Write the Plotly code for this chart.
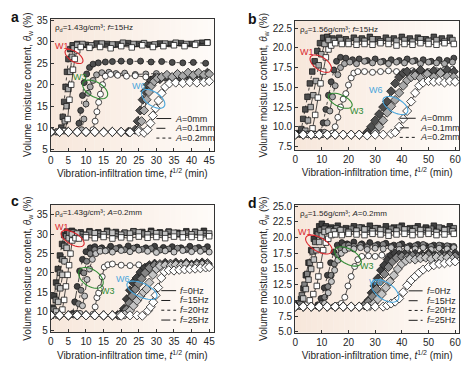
import math
import plotly.graph_objects as go

FIG_W, FIG_H = 475, 371
FONT = "Liberation Sans, Arial, sans-serif"

# ---------------- panel a : rho_d=1.43, f=15Hz, A = 0 / 0.1 / 0.2 mm ----------------
a_w1_0_t = [0, 2, 4, 4.8, 5.3, 5.8, 6.3, 6.8, 7.5, 8.5, 11, 14, 17, 20, 23, 26, 29, 32, 35, 38, 41, 44.5]
a_w1_0_y = [9, 9, 9.2, 12, 16.5, 20, 23.5, 26, 28, 28.8, 28.6, 28.8, 28.5, 29, 28.7, 29.2, 28.8, 29, 29.2, 29, 29.3, 29.8]
a_w1_1_t = [0, 2, 3.5, 4, 4.5, 5, 5.5, 6, 6.5, 7.5, 9, 11.5, 14.5, 17.5, 20.5, 23.5, 26.5, 29.5, 32.5, 35.5, 38.5, 41.5, 44.5]
a_w1_1_y = [9, 9, 9.3, 11.5, 15, 19, 23, 26.5, 28.5, 29.3, 29.5, 29.2, 29.6, 29.4, 29.8, 29.5, 29.7, 29.4, 29.6, 29.8, 29.5, 29.7, 29.9]
a_w1_2_t = [0, 2, 3, 3.4, 3.8, 4.2, 4.6, 5, 5.5, 6.2, 7.5, 10, 13, 16, 19, 22, 25, 28, 31, 34, 37, 40, 43]
a_w1_2_y = [9, 9, 10, 12.5, 16, 19.5, 23, 26, 28.3, 29.2, 29.5, 29.3, 29.6, 29.5, 29.4, 29.7, 29.5, 29.3, 29.6, 29.5, 29.7, 29.5, 29.8]

a_w3_0_t = [0, 2.5, 5, 7.5, 10, 12, 12.6, 13.1, 13.6, 14.1, 14.7, 15.5, 17, 19, 21.5, 24, 27, 30, 33, 36, 39, 42, 44.5]
a_w3_0_y = [9, 9, 9, 9, 8.9, 9.5, 11.5, 13.7, 15.9, 17.8, 20, 22, 22.4, 22.2, 22, 22.1, 21.8, 22, 21.7, 21.6, 21.8, 21.9, 22.1]
a_w3_1_t = [0, 2.5, 5, 7.5, 8.8, 9.4, 10, 10.6, 11.2, 12, 13, 14.5, 16.5, 18.5, 21, 24, 27, 30, 33, 36, 39, 42, 44.5]
a_w3_1_y = [9, 9, 9, 9, 9.5, 12, 15.5, 18, 19.5, 21, 22.3, 22.8, 22.9, 22.6, 22.7, 22.4, 22.5, 22.6, 22.3, 22.5, 22.4, 22.6, 22.5]
a_w3_2_t = [0, 2.5, 5, 7.5, 8, 8.5, 9, 9.5, 10.2, 11, 12, 13.5, 15.5, 17.5, 20, 22.5, 25.5, 28.5, 31.5, 34.5, 37.5, 40.5, 44]
a_w3_2_y = [9, 9, 9, 9.2, 11, 14, 17.5, 20.5, 22.5, 24, 24.8, 25.1, 25.3, 25.4, 25.5, 25.4, 25.5, 25.3, 25.4, 25.2, 25.1, 25.2, 25]

a_w6_0_t = [0, 2.5, 5, 7.5, 10, 12.5, 15, 17.5, 20, 22.5, 25, 26.5, 27.5, 28.3, 29, 29.8, 30.6, 31.5, 32.5, 33.7, 35.5, 37.5, 39.5, 41.5, 43.5, 45]
a_w6_0_y = [9, 9, 9, 9, 9, 9, 8.9, 9, 9, 8.9, 9, 8.8, 9.5, 11, 12.8, 14.5, 16.3, 18, 19.5, 20.3, 20.5, 20.4, 20.6, 20.5, 20.6, 20.8]
a_w6_1_t = [0, 2.5, 5, 7.5, 10, 12.5, 15, 17.5, 20, 22.5, 25, 25.8, 26.5, 27.2, 27.9, 28.6, 29.4, 30.3, 31.5, 33, 34.5, 36, 37.5, 39, 40.5, 42, 43.5, 45]
a_w6_1_y = [9, 9, 9, 9, 9, 9, 9, 9, 9, 9, 9.5, 11.5, 14, 16.5, 18.3, 19.8, 20.8, 21.5, 21.8, 22.3, 21.8, 22.5, 22, 22.8, 22.2, 22.8, 22.3, 22.5]
a_w6_2_t = [0, 2.5, 5, 7.5, 10, 12.5, 15, 17.5, 20, 22, 24, 24.7, 25.4, 26.1, 26.8, 27.6, 28.5, 29.5, 31, 32.5, 34, 35.5, 37, 38.5, 40, 41.5, 43, 44.5]
a_w6_2_y = [9, 9, 9, 9, 9, 9, 9, 9, 9, 9, 9.5, 11.5, 14, 16.5, 18.5, 20, 21, 21.5, 21.3, 21.8, 21.5, 22, 21.6, 22.2, 21.8, 22.5, 22, 22.8]

# ---------------- panel b : rho_d=1.56, f=15Hz, A = 0 / 0.1 / 0.2 mm ----------------
b_w1_0_t = [0, 2.5, 5, 6.5, 7.5, 8.5, 9.5, 10.5, 11.5, 12.5, 13.5, 15, 17.5, 20, 23, 26, 29, 32, 35, 38, 41, 44, 47, 50, 53, 56, 59.5]
b_w1_0_y = [9, 9.1, 9.1, 9.8, 11.5, 13.7, 15.5, 17, 18.8, 19.8, 20.3, 20.6, 20.5, 20.5, 20.4, 20.5, 20.4, 20.6, 20.5, 20.3, 20.5, 20.4, 20.6, 20.5, 20.4, 20.6, 20.5]
b_w1_1_t = [0, 2.5, 3.8, 4.8, 5.8, 6.8, 7.8, 8.8, 9.8, 11, 12.5, 14.5, 17, 20, 23, 26, 29, 32, 35, 38, 41, 44, 47, 50, 53, 56, 59]
b_w1_1_y = [9, 9, 9.5, 10.8, 12.5, 14, 15.8, 17.8, 19.2, 20.5, 21, 20.9, 21, 20.8, 21, 20.9, 21.1, 20.8, 21, 20.9, 21, 20.8, 21.1, 20.9, 21, 20.8, 21]
b_w1_2_t = [0, 1.5, 2.3, 3, 3.8, 4.6, 5.5, 6.4, 7.3, 8.3, 9.3, 10.5, 12, 14, 16.5, 19, 22, 25, 28, 31, 34, 37, 40, 43, 46, 49, 52, 55, 58]
b_w1_2_y = [9, 9.2, 9.7, 11, 12.2, 13.8, 15.5, 17, 18.3, 19.6, 20.6, 21.3, 21.4, 21.2, 21.3, 21.1, 21.3, 21.2, 21.4, 21.1, 21.3, 21.2, 21.4, 21.2, 21.3, 21.1, 21.4, 21.2, 21.3]

b_w3_0_t = [0, 2.5, 5, 7.5, 10, 12.5, 14, 15, 16, 17, 18, 19, 20, 21, 22, 23.5, 26, 29, 32, 35, 38, 41, 44, 47, 50, 53, 56, 59]
b_w3_0_y = [9, 9, 9, 9, 9, 9, 9.2, 10, 11.2, 12.5, 13.5, 14.2, 15.3, 16.2, 16.8, 17, 17, 16.9, 17, 17.1, 17, 17, 17.1, 17, 17, 17.1, 17.2, 17.3]
b_w3_1_t = [0, 2.5, 5, 7.5, 10, 11, 12, 13, 14, 15, 16, 17, 18.5, 20.5, 23, 26, 29, 32, 35, 38, 41, 44, 47, 50, 53, 56, 59]
b_w3_1_y = [9, 9, 9, 9, 9, 9.3, 10.5, 12, 13.8, 15.2, 16.6, 17.5, 18, 18.2, 18, 18.3, 18.1, 18.2, 18, 18.2, 18.1, 18.3, 18, 18.2, 18.1, 18, 18.2]
b_w3_2_t = [0, 2.5, 5, 7.5, 9.5, 10.5, 11.5, 12.5, 13.5, 14.5, 15.5, 17, 19, 21.5, 24, 27, 30, 33, 36, 39, 42, 45, 48, 51, 54, 57, 59.5]
b_w3_2_y = [9, 9, 9, 9, 9.3, 10.5, 12.2, 14, 15.7, 17.2, 18.3, 18.8, 18.7, 18.5, 18.6, 18.4, 18.6, 18.3, 18.5, 18.4, 18.6, 18.4, 18.5, 18.3, 18.5, 18.4, 18.7]

b_w6_0_t = [0, 3, 6, 9, 12, 15, 18, 21, 24, 27, 30, 33, 36, 37.5, 39, 40.5, 42, 43.5, 45, 46.5, 48, 50, 52, 54, 56, 58, 60]
b_w6_0_y = [9, 9, 9, 9, 9, 9, 9, 9, 9, 8.9, 9, 9, 9.1, 9.3, 10, 11, 12, 13.2, 14.3, 15.2, 15.6, 15.8, 15.7, 15.8, 15.6, 15.8, 15.7]
b_w6_1_t = [0, 3, 6, 9, 12, 15, 18, 21, 24, 27, 30, 31.5, 33, 34.5, 36, 37.5, 39, 40.5, 42, 43.5, 45, 47, 49.5, 52, 54.5, 57, 59.5]
b_w6_1_y = [9, 9, 9, 9, 9, 9, 9, 9, 9, 9, 9.3, 10, 10.8, 11.8, 12.6, 13.4, 14.3, 15.2, 15.9, 16.3, 16.5, 16.2, 16.7, 16.3, 16.8, 16.4, 16.3]
b_w6_2_t = [0, 3, 6, 9, 12, 15, 18, 21, 24, 27, 28.5, 30, 31.5, 33, 34.5, 36, 37.5, 39, 40.5, 42, 44.5, 47, 49.5, 52, 54.5, 57, 59.5]
b_w6_2_y = [9, 9, 9, 9, 9, 9, 9, 9, 9, 9.3, 10, 10.8, 11.6, 12.5, 13.2, 14.5, 15.5, 16.3, 16.8, 17, 16.8, 17.2, 16.8, 17.1, 16.9, 17.2, 17]

# ---------------- panel c : rho_d=1.43, A=0.2mm, f = 0 / 15 / 20 / 25 Hz ----------------
c_w1_0_t = [0, 2, 3.3, 3.8, 4.3, 4.8, 5.2, 5.6, 6.1, 7, 8, 10, 12.5, 15, 17.5, 20, 22.5, 25, 27.5, 30, 32.5, 35, 37.5, 40, 42.5, 45]
c_w1_0_y = [9, 9, 10.5, 13, 16.5, 19.5, 22, 25, 28.4, 29, 28.9, 29.2, 29, 29.3, 28.9, 29.2, 29, 29.4, 29.1, 29.3, 29, 29.4, 29.2, 29.3, 29.1, 29.5]
c_w1_1_t = [0, 1.5, 2.1, 2.7, 3.3, 3.9, 4.5, 5.1, 6, 7.5, 10, 12.5, 15, 17.5, 20, 22.5, 25, 27.5, 30, 32.5, 35, 37.5, 40, 42.5, 45]
c_w1_1_y = [9, 10, 12.5, 16, 19.5, 23, 26.5, 29, 30, 30.2, 29.8, 30.3, 30, 30.4, 29.9, 30.2, 30.5, 30, 30.3, 30.1, 30.4, 30.2, 30, 30.3, 30.2]
c_w1_2_t = [0, 0.8, 1.4, 2, 2.6, 3.2, 3.8, 4.4, 5.2, 6.5, 8.5, 11, 13.5, 16, 18.5, 21, 23.5, 26, 28.5, 31, 33.5, 36, 38.5, 41, 43.5]
c_w1_2_y = [9, 10.5, 13, 16.5, 20, 23.5, 27, 29.5, 30.3, 30.5, 30, 30.5, 30.2, 30.6, 30.1, 30.4, 30.7, 30.2, 30.5, 30.3, 30.6, 30.1, 30.4, 30.6, 30.3]
c_w1_3_t = [0, 0.5, 1, 1.5, 2, 2.6, 3.2, 3.8, 4.6, 6, 8.5, 11, 13.5, 16, 18.5, 21, 23.5, 26, 28.5, 31, 33.5, 36, 38.5, 41, 43.5]
c_w1_3_y = [9, 11, 14, 17.5, 21, 24.5, 27.5, 29.8, 30.7, 30.9, 30.5, 30.8, 30.5, 30.9, 30.6, 30.4, 30.8, 30.6, 30.9, 30.5, 30.7, 30.4, 30.8, 30.6, 30.9]

c_w3_0_t = [0, 2.5, 5, 7.5, 10, 12, 12.6, 13.1, 13.6, 14.1, 14.6, 15.2, 16.2, 17.5, 20, 22.5, 25, 27.5, 30, 32.5, 35, 37.5, 40, 42.5, 45]
c_w3_0_y = [9, 9, 9, 9, 9, 9.3, 11.2, 13.6, 14.8, 16.1, 19, 21.5, 22.1, 22.3, 22, 21.9, 22.1, 21.8, 22, 21.9, 22.1, 21.8, 22, 22.2, 22.1]
c_w3_1_t = [0, 2.5, 5, 7.5, 8.3, 9, 9.6, 10.3, 11, 11.8, 12.8, 14, 15.5, 17.5, 20, 22.5, 25, 27.5, 30, 32.5, 35, 37.5, 40, 42.5, 45]
c_w3_1_y = [9, 9, 9, 9, 9.5, 11.5, 14, 18.3, 21, 23.5, 25, 25.6, 25.7, 25.4, 25.8, 25.5, 25.9, 25.6, 25.3, 25.7, 25.4, 25.8, 25.5, 25.6, 25.4]
c_w3_2_t = [0, 2.5, 5, 6.5, 7.3, 7.9, 8.6, 9.4, 10.2, 11.2, 12.5, 14, 16, 18.5, 21, 23.5, 26, 28.5, 31, 33.5, 36, 38.5, 41, 43.5]
c_w3_2_y = [9, 9, 9, 9.1, 9.5, 12, 15.5, 20, 23, 25, 26, 26.2, 25.9, 26.3, 26, 26.4, 26.1, 26.3, 25.9, 26.2, 26.4, 26, 26.3, 26.1]
c_w3_3_t = [0, 2.5, 5, 6.2, 6.8, 7.5, 8.2, 9, 10, 11.2, 12.5, 14.5, 17, 19.5, 22, 24.5, 27, 29.5, 32, 34.5, 37, 39.5, 42, 44.5]
c_w3_3_y = [9, 9, 9.1, 9.5, 12.5, 16.5, 20.5, 23.5, 25.5, 26.5, 26.8, 26.5, 26.9, 26.6, 27, 26.7, 26.5, 26.9, 26.6, 26.8, 26.5, 26.9, 26.6, 26.8]

c_w6_0_t = [0, 2.5, 5, 7.5, 10, 12.5, 15, 17.5, 20, 22.5, 24.5, 26, 27.6, 28.4, 29.1, 29.8, 30.5, 31.4, 32.3, 33.5, 35, 36.5, 38, 39.5, 41, 42.5, 44, 45]
c_w6_0_y = [9, 9, 9, 9, 9, 9, 9, 9, 8.9, 9, 9, 8.9, 10.2, 11.2, 12.4, 14.2, 16.2, 18.7, 20.3, 20.7, 20.6, 20.8, 20.9, 21, 21.1, 21.2, 21.4, 21.5]
c_w6_1_t = [0, 2.5, 5, 7.5, 10, 12.5, 15, 17.5, 19.5, 21, 22.5, 23.5, 24.5, 25.5, 26.3, 27.2, 28, 29, 30, 31, 32.5, 34, 35.5, 37, 38.5, 40, 41.5, 43, 44.5]
c_w6_1_y = [9, 9, 9, 9, 9, 9, 9, 9, 9, 9.2, 10.2, 11.5, 12.8, 14, 15, 15.8, 17.5, 19.5, 21, 21.8, 22, 21.8, 22.1, 21.9, 22.2, 21.8, 22, 22.1, 22]
c_w6_2_t = [0, 2.5, 5, 7.5, 10, 12.5, 15, 17.5, 19.5, 20.5, 21.5, 22.3, 23.1, 24, 24.9, 25.8, 26.8, 28, 29.5, 31, 32.5, 34, 35.5, 37, 38.5, 40, 41.5, 43, 44.5]
c_w6_2_y = [9, 9, 9, 9, 9, 9, 9, 9, 9, 9.3, 10.5, 12.2, 14, 15.8, 17.2, 18.5, 20, 21.3, 22, 22.3, 21.9, 22.4, 22, 22.3, 22.5, 22.1, 22.4, 22.2, 22.5]
c_w6_3_t = [0, 2.5, 5, 7.5, 10, 12.5, 15, 17.5, 19, 20, 20.8, 21.6, 22.5, 23.4, 24.4, 25.5, 26.7, 28, 29.5, 31, 32.5, 34, 35.5, 37, 38.5, 40, 41.5, 43, 44.5]
c_w6_3_y = [9, 9, 9, 9, 9, 9, 9, 9, 9.1, 9.5, 10.7, 13.2, 15.5, 17.5, 18.7, 20.2, 21.3, 22, 22.4, 22.1, 22.6, 22.2, 22.7, 22.3, 22.6, 22.2, 22.5, 22.7, 22.4]

# ---------------- panel d : rho_d=1.56, A=0.2mm, f = 0 / 15 / 20 / 25 Hz ----------------
d_w1_0_t = [0, 2.5, 4.5, 5.5, 6.8, 8.1, 8.7, 9.3, 10.5, 11.5, 12.4, 13.6, 15, 17.5, 20, 23, 26, 29, 32, 35, 38, 41, 44, 47, 50, 53, 56, 59.5]
d_w1_0_y = [9, 9, 9.3, 10, 11, 12.3, 13.8, 15.6, 18, 19.2, 19.8, 20.4, 20.5, 20.4, 20.6, 20.5, 20.4, 20.6, 20.5, 20.3, 20.5, 20.6, 20.4, 20.5, 20.6, 20.4, 20.5, 20.6]
d_w1_1_t = [0, 2, 3, 4, 5, 6, 7, 8, 9, 10, 11, 12.5, 14.5, 17, 20, 23, 26, 29, 32, 35, 38, 41, 44, 47, 50, 53, 56, 59]
d_w1_1_y = [9, 9.3, 10.3, 11.8, 13.3, 15, 16.5, 18, 19.3, 20.3, 20.9, 21.1, 21, 21.2, 20.9, 21.1, 21.3, 21, 21.2, 20.9, 21.1, 21.3, 21, 21.2, 21.1, 20.9, 21.2, 21]
d_w1_2_t = [0, 1.5, 2.5, 3.5, 4.5, 5.5, 6.5, 7.5, 8.5, 9.5, 11, 13, 15.5, 18, 21, 24, 27, 30, 33, 36, 39, 42, 45, 48, 51, 54, 57, 59.5]
d_w1_2_y = [9, 9.5, 10.8, 12.5, 14.2, 16, 17.8, 19.3, 20.5, 21.2, 21.4, 21.3, 21.5, 21.2, 21.4, 21.6, 21.3, 21.5, 21.2, 21.4, 21.6, 21.3, 21.5, 21.2, 21.4, 21.6, 21.3, 21.5]
d_w1_3_t = [0, 1, 2.2, 3.1, 4, 5, 6, 7, 8, 9, 10, 11.5, 13.5, 16, 19, 22, 25, 28, 31, 34, 37, 40, 43, 46, 49, 52, 55, 58]
d_w1_3_y = [9, 9.5, 10.2, 11.9, 14, 16, 18, 19.8, 21, 21.8, 22.2, 21.8, 21.6, 21.9, 21.5, 21.8, 21.6, 21.9, 21.5, 21.8, 21.6, 21.9, 21.5, 21.8, 21.6, 21.9, 21.5, 21.8]

d_w3_0_t = [0, 3, 6, 9, 12, 14.5, 16, 17.3, 18.6, 19.8, 21, 22.3, 23.5, 25, 27.5, 30, 32.5, 35, 37.5, 40, 42.5, 45, 47.5, 50, 52.5, 55, 57.5, 60]
d_w3_0_y = [9, 9, 9, 9, 9, 9, 9.2, 9.5, 10.5, 12.3, 13.8, 15.4, 16.5, 17, 17.1, 17, 17.2, 17, 17.1, 17.2, 17, 17.1, 16.9, 17.1, 17, 17.2, 17.1, 17.3]
d_w3_1_t = [0, 3, 6, 9, 11, 12.4, 13.6, 14.8, 16, 17.3, 18.7, 20.2, 22, 24.5, 27, 30, 33, 36, 39, 42, 45, 48, 51, 54, 57, 59.5]
d_w3_1_y = [9, 9, 9, 9, 9.5, 11.2, 13, 14.8, 16.4, 17.5, 18, 18.3, 18.2, 18.4, 18.1, 18.3, 18.2, 18.4, 18.1, 18.3, 18.2, 18.4, 18.1, 18.3, 18.2, 18.4]
d_w3_2_t = [0, 3, 6, 8.5, 10, 11.1, 12.3, 13.5, 14.7, 15.9, 17.1, 18.5, 20, 22, 24.5, 27, 30, 33, 36, 39, 42, 45, 48, 51, 54, 57, 59.5]
d_w3_2_y = [9, 9, 9, 9, 9.5, 10.5, 12.2, 14, 15.8, 17.2, 18.2, 18.7, 18.8, 18.6, 18.8, 18.5, 18.7, 18.9, 18.6, 18.8, 18.5, 18.7, 18.9, 18.6, 18.8, 18.7, 18.6]
d_w3_3_t = [0, 3, 6, 8.5, 9.7, 10.9, 12.1, 13.3, 14.5, 15.8, 17.5, 19.5, 22, 25, 28, 31, 34, 37, 40, 43, 46, 49, 52, 55, 58]
d_w3_3_y = [9, 9, 9, 9.3, 10.3, 12, 14, 16, 17.7, 18.8, 19.2, 19, 19.3, 19, 19.2, 18.9, 19.1, 18.8, 19, 18.7, 18.9, 18.7, 18.8, 18.7, 18.6]

d_w6_0_t = [0, 3, 6, 9, 12, 15, 18, 21, 24, 27, 30, 33, 34.5, 36, 37.5, 39, 40.5, 42, 43.5, 45, 46.5, 48, 50, 52, 54, 56, 58, 60]
d_w6_0_y = [9, 9, 9, 9, 9, 9, 9, 9, 9, 9, 9, 9, 9.2, 9.5, 9.8, 10.3, 11.3, 12.4, 13.2, 13.8, 14.4, 14.9, 15.3, 15.6, 15.8, 15.9, 16.1, 16.2]
d_w6_1_t = [0, 3, 6, 9, 12, 15, 18, 21, 24, 28, 29.5, 31, 32.5, 34, 35.5, 37, 38.5, 40, 41.5, 43, 45, 47, 49, 51, 53, 55, 57, 59]
d_w6_1_y = [9, 9, 9, 9, 9, 9, 9, 9, 9, 9.1, 9.5, 10.2, 11, 12, 13, 14, 15, 15.8, 16.3, 16.6, 16.5, 16.7, 16.8, 16.6, 16.9, 16.7, 16.8, 16.6]
d_w6_2_t = [0, 3, 6, 9, 12, 15, 18, 21, 24, 26, 27.5, 29, 30.5, 32, 33.5, 35, 36.5, 38, 40, 42, 44, 46, 48, 50, 52, 54, 56, 58, 60]
d_w6_2_y = [9, 9, 9, 9, 9, 9, 9, 9, 9, 9.2, 9.8, 10.6, 11.8, 13, 14.2, 15.3, 16.2, 16.8, 17, 16.9, 17.1, 16.9, 17, 17.2, 16.9, 17.1, 17, 17.2, 17]
d_w6_3_t = [0, 3, 6, 9, 12, 15, 18, 21, 24, 26, 27.5, 28.7, 29.7, 31, 32.2, 33.4, 34.7, 36, 37.5, 39, 41, 43, 45, 47.5, 50, 52.5, 55, 57.5, 60]
d_w6_3_y = [9, 9, 9, 9, 9, 9, 9, 9, 9, 9.3, 10, 11.2, 12.3, 13.5, 14.8, 15.6, 16.5, 17.2, 17.5, 17.3, 17.4, 17.2, 17.4, 17.3, 17.5, 17.2, 17.4, 17.3, 17.5]

# ---------------- labels ----------------
a_info = "ρ<sub>d</sub>=1.43g/cm³; <i>f</i>=15Hz"
b_info = "ρ<sub>d</sub>=1.56g/cm³; <i>f</i>=15Hz"
c_info = "ρ<sub>d</sub>=1.43g/cm³; <i>A</i>=0.2mm"
d_info = "ρ<sub>d</sub>=1.56g/cm³; <i>A</i>=0.2mm"
amp_labels = ["<i>A</i>=0mm", "<i>A</i>=0.1mm", "<i>A</i>=0.2mm"]
freq_labels = ["<i>f</i>=0Hz", "<i>f</i>=15Hz", "<i>f</i>=20Hz", "<i>f</i>=25Hz"]
x_title = "Vibration-infiltration time, <i>t</i><sup>1/2</sup> (min)"
y_title = "Volume moisture content, <i>θ</i><sub>w</sub> (%)"

# ---------------- styling ----------------
SYMBOLS = {"W1": "square", "W3": "circle", "W6": "diamond"}
SIZES = {"W1": 5.5, "W3": 6, "W6": 7}
FILL3 = ["#ffffff", "#a9a9a9", "#4d4d4d"]
DASH3 = ["solid", "dash", "dot"]
FILL4 = ["#ffffff", "#c4c4c4", "#858585", "#3f3f3f"]
DASH4 = ["solid", "dash", "dot", "dashdot"]
ELL_COL = {"W1": "#d9262c", "W3": "#2f8a32", "W6": "#4aa6dc"}


def px_to_paper(x, y):
    return x / FIG_W, 1 - y / FIG_H


panels = [
    dict(key="", letter="a", dom_px=(48.3, 213, 15, 150), xr=[0, 46.3], yr=[4.6, 35.4],
         xdt=5, ydt=5, yfmt="d", info=a_info, fills=FILL3, dashes=DASH3, leg=amp_labels,
         series=[("W1", a_w1_0_t, a_w1_0_y, a_w1_1_t, a_w1_1_y, a_w1_2_t, a_w1_2_y),
                 ("W3", a_w3_0_t, a_w3_0_y, a_w3_1_t, a_w3_1_y, a_w3_2_t, a_w3_2_y),
                 ("W6", a_w6_0_t, a_w6_0_y, a_w6_1_t, a_w6_1_y, a_w6_2_t, a_w6_2_y)],
         ell={"W1": (6.6, 26.6, 10.5, 5, 35), "W3": (12.6, 18.9, 14, 7.5, 30), "W6": (29.1, 16.7, 13.5, 7, 35)},
         lab={"W1": (3.3, 29.0), "W3": (8.4, 21.7), "W6": (25.0, 19.6)},
         leg_pos=(0.648, 0.739, [0.244, 0.170, 0.096]), letter_px=(11.7, 13.3)),
    dict(key="2", letter="b", dom_px=(295.3, 461, 17, 149), xr=[0, 61.5], yr=[7.08, 23.46],
         xdt=10, ydt=2.5, yfmt=".1f", info=b_info, fills=FILL3, dashes=DASH3, leg=amp_labels,
         series=[("W1", b_w1_0_t, b_w1_0_y, b_w1_1_t, b_w1_1_y, b_w1_2_t, b_w1_2_y),
                 ("W3", b_w3_0_t, b_w3_0_y, b_w3_1_t, b_w3_1_y, b_w3_2_t, b_w3_2_y),
                 ("W6", b_w6_0_t, b_w6_0_y, b_w6_1_t, b_w6_1_y, b_w6_2_t, b_w6_2_y)],
         ell={"W1": (9.6, 18.0, 12.5, 6.5, 35), "W3": (16.9, 13.3, 13, 6, 25), "W6": (37.6, 12.7, 14, 7, 30)},
         lab={"W1": (4.3, 19.5), "W3": (23.2, 12.0), "W6": (30.3, 14.6)},
         leg_pos=(0.638, 0.735, [0.244, 0.170, 0.096]), letter_px=(251.7, 15)),
    dict(key="3", letter="c", dom_px=(48.3, 213, 205, 335.7), xr=[0, 46.3], yr=[4.57, 37.7],
         xdt=5, ydt=5, yfmt="d", info=c_info, fills=FILL4, dashes=DASH4, leg=freq_labels,
         series=[("W1", c_w1_0_t, c_w1_0_y, c_w1_1_t, c_w1_1_y, c_w1_2_t, c_w1_2_y, c_w1_3_t, c_w1_3_y),
                 ("W3", c_w3_0_t, c_w3_0_y, c_w3_1_t, c_w3_1_y, c_w3_2_t, c_w3_2_y, c_w3_3_t, c_w3_3_y),
                 ("W6", c_w6_0_t, c_w6_0_y, c_w6_1_t, c_w6_1_y, c_w6_2_t, c_w6_2_y, c_w6_3_t, c_w6_3_y)],
         ell={"W1": (6.2, 28.9, 13, 6, 30), "W3": (11.4, 18.7, 14, 8.5, 35), "W6": (25.9, 15.5, 16.5, 7, 25)},
         lab={"W1": (3.1, 32.0), "W3": (16.2, 15.3), "W6": (20.6, 18.3)},
         leg_pos=(0.678, 0.769, [0.327, 0.250, 0.174, 0.097]), letter_px=(11.7, 201.7)),
    dict(key="4", letter="d", dom_px=(295.3, 461, 205, 336), xr=[0, 61.5], yr=[4.84, 25.26],
         xdt=10, ydt=2.5, yfmt=".1f", info=d_info, fills=FILL4, dashes=DASH4, leg=freq_labels,
         series=[("W1", d_w1_0_t, d_w1_0_y, d_w1_1_t, d_w1_1_y, d_w1_2_t, d_w1_2_y, d_w1_3_t, d_w1_3_y),
                 ("W3", d_w3_0_t, d_w3_0_y, d_w3_1_t, d_w3_1_y, d_w3_2_t, d_w3_2_y, d_w3_3_t, d_w3_3_y),
                 ("W6", d_w6_0_t, d_w6_0_y, d_w6_1_t, d_w6_1_y, d_w6_2_t, d_w6_2_y, d_w6_3_t, d_w6_3_y)],
         ell={"W1": (8.9, 18.9, 15, 7, 30), "W3": (19.8, 17.0, 15, 7.5, 30), "W6": (33.7, 11.5, 16, 8.5, 35)},
         lab={"W1": (3.7, 20.9), "W3": (26.9, 15.4), "W6": (30.3, 12.9)},
         leg_pos=(0.692, 0.777, [0.327, 0.250, 0.174, 0.097]), letter_px=(251.7, 203.3)),
]

fig = go.Figure()
shapes = []
annotations = []
layout_axes = {}

BG_L = (247, 231, 219)
BG_R = (254, 251, 248)
NB = 30

for p in panels:
    k = p["key"]
    xa, ya = "x" + k, "y" + k
    x0p, x1p, ytop, ybot = p["dom_px"]
    xdom = [x0p / FIG_W, x1p / FIG_W]
    ydom = [1 - ybot / FIG_H, 1 - ytop / FIG_H]
    common = dict(showline=True, mirror=True, linecolor="#333333", linewidth=1,
                  ticks="inside", ticklen=3, tickwidth=0.8, tickcolor="#333333",
                  showgrid=False, zeroline=False,
                  tickfont=dict(family=FONT, size=10, color="#262626"))
    layout_axes["xaxis" + k] = dict(domain=xdom, range=p["xr"], anchor=ya, dtick=p["xdt"], tick0=0,
                                     title=dict(text=x_title, font=dict(family=FONT, size=10, color="#262626"), standoff=5),
                                     **common)
    layout_axes["yaxis" + k] = dict(domain=ydom, range=p["yr"], anchor=xa, dtick=p["ydt"], tick0=0,
                                     tickformat=p["yfmt"],
                                     title=dict(text=y_title, font=dict(family=FONT, size=10, color="#262626"), standoff=3),
                                     **common)

    # background gradient
    for i in range(NB):
        f = i / (NB - 1)
        col = "rgb(%d,%d,%d)" % tuple(round(BG_L[j] + (BG_R[j] - BG_L[j]) * f) for j in range(3))
        shapes.append(dict(type="rect", xref=xa + " domain", yref=ya + " domain",
                           x0=i / NB, x1=(i + 1) / NB + 0.002, y0=0, y1=1,
                           fillcolor=col, line=dict(width=0), layer="below"))

    # series
    for entry in p["series"]:
        w = entry[0]
        pairs = entry[1:]
        n = len(pairs) // 2
        for ci in reversed(range(n)):
            tt, yy = pairs[2 * ci], pairs[2 * ci + 1]
            fig.add_trace(go.Scatter(
                x=tt, y=yy, xaxis=xa, yaxis=ya, mode="lines+markers", showlegend=False,
                line=dict(color="#1e1e1e", width=0.8, dash=p["dashes"][ci]),
                marker=dict(symbol=SYMBOLS[w], size=SIZES[w], color=p["fills"][ci],
                            line=dict(color="#1a1a1a", width=0.8)),
                name=f"{p['letter']} {w} {ci}"))

    # ellipses
    def d2px(t, v, p=p):
        x0p, x1p, ytop, ybot = p["dom_px"]
        px = x0p + (t - p["xr"][0]) / (p["xr"][1] - p["xr"][0]) * (x1p - x0p)
        py = ybot - (v - p["yr"][0]) / (p["yr"][1] - p["yr"][0]) * (ybot - ytop)
        return px, py

    for w, (tc, vc, ra, rb, ang) in p["ell"].items():
        cx, cy = d2px(tc, vc)
        al = math.radians(ang)
        pts = []
        for s in range(41):
            ph = 2 * math.pi * s / 40
            ex = cx + ra * math.cos(ph) * math.cos(al) - rb * math.sin(ph) * math.sin(al)
            ey = cy + ra * math.cos(ph) * math.sin(al) + rb * math.sin(ph) * math.cos(al)
            X, Y = px_to_paper(ex, ey)
            pts.append(f"{X:.5f},{Y:.5f}")
        path = "M " + " L ".join(pts) + " Z"
        shapes.append(dict(type="path", xref="paper", yref="paper", path=path,
                           line=dict(color=ELL_COL[w], width=1.1)))
    for w, (tl, vl) in p["lab"].items():
        annotations.append(dict(x=tl, y=vl, xref=xa, yref=ya, text=w, showarrow=False,
                                font=dict(family=FONT, size=9, color=ELL_COL[w])))

    # info text
    annotations.append(dict(x=0.015, y=0.985, xref=xa + " domain", yref=ya + " domain",
                            text=p["info"], showarrow=False, xanchor="left", yanchor="top",
                            font=dict(family=FONT, size=8, color="#262626")))
    # panel letter
    lx, ly = px_to_paper(*p["letter_px"])
    annotations.append(dict(x=lx, y=ly, xref="paper", yref="paper", text=p["letter"],
                            showarrow=False, xanchor="center", yanchor="middle",
                            font=dict(family=FONT, size=14, color="#111111", weight="bold")))
    # custom legend
    lx0, lx1, lys = p["leg_pos"]
    for li, (lbl, ly_) in enumerate(zip(p["leg"], lys)):
        shapes.append(dict(type="line", xref=xa + " domain", yref=ya + " domain",
                           x0=lx0, x1=lx1, y0=ly_, y1=ly_,
                           line=dict(color="#1e1e1e", width=1, dash=p["dashes"][li])))
        annotations.append(dict(x=lx1 + 0.012, y=ly_, xref=xa + " domain", yref=ya + " domain",
                                text=lbl, showarrow=False, xanchor="left", yanchor="middle",
                                font=dict(family=FONT, size=9, color="#262626")))

fig.update_layout(
    width=FIG_W, height=FIG_H,
    margin=dict(l=0, r=0, t=0, b=0),
    paper_bgcolor="white", plot_bgcolor="white",
    showlegend=False,
    shapes=shapes, annotations=annotations,
    font=dict(family=FONT, size=10, color="#262626"),
    **layout_axes,
)

fig.write_html("out.html", config={"displayModeBar": False},
               post_script="document.body.style.margin='0';")
